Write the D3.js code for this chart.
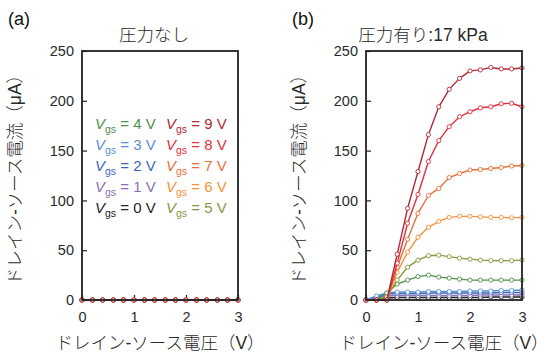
<!DOCTYPE html>
<html><head><meta charset="utf-8">
<script src="https://cdn.jsdelivr.net/npm/d3@7"></script>
<style>body{margin:0;background:#fff}svg{display:block}</style>
</head><body><svg id="c" width="557" height="358"></svg>
<script>
// ---- data ----
const vds = [0,0.2,0.4,0.6,0.8,1.0,1.2,1.4,1.6,1.8,2.0,2.2,2.4,2.6,2.8,3.0];
const vgsValues = [0,1,2,3,4,5,6,7,8,9];
const yTicks = [0,50,100,150,200,250];
const xTicks = [0,1,2,3];
const colors = ["#222222","#8a6fb3","#3f66b8","#5b8fd4","#4f9147","#86993f","#f4913c","#e6703a","#e5303b","#b02a35"];

// (a) no pressure
const a0V = [0,0,0,0,0,0,0,0,0,0,0,0,0,0,0,0];
const a1V = [0,0,0,0,0,0,0,0,0,0,0,0,0,0,0,0];
const a2V = [0,0,0,0,0,0,0,0,0,0,0,0,0,0,0,0];
const a3V = [0,0,0,0,0,0,0,0,0,0,0,0,0,0,0,0];
const a4V = [0,0,0,0,0,0,0,0,0,0,0,0,0,0,0,0];
const a5V = [0,0,0,0,0,0,0,0,0,0,0,0,0,0,0,0];
const a6V = [0,0,0,0,0,0,0,0,0,0,0,0,0,0,0,0];
const a7V = [0,0,0,0,0,0,0,0,0,0,0,0,0,0,0,0];
const a8V = [0,0,0,0,0,0,0,0,0,0,0,0,0,0,0,0];
const a9V = [0,0,0,0,0,0,0,0,0,0,0,0,0,0,0,0];

// (b) 17 kPa
const b0V = [0,1,2,2.5,2.5,2.5,2.5,2.5,2.5,2.5,2.5,2.5,3,3,3,3];
const b1V = [0,2,4,4.5,4.5,4.5,4.5,4.5,4.5,4.5,4.5,5,5,5,5,5];
const b2V = [0,3,6,6.5,6.5,6.5,7,7,7,7,7,7,7,7.5,7.5,7.5];
const b3V = [0,4,7,8,8,8,8.5,8.5,8.5,8.5,9,9,9,9.5,9.5,10];
const b4V = [0,0,7,16,20,23.5,25,23,22,21,20,20,20,20,20,20];
const b5V = [0,0,3,20,33,40,44.5,45,43.5,42,41,40,39.5,39.5,39.5,40];
const b6V = [0,0,0,28,48,63,73,79,83,84,84,83.5,83,83,82.5,83];
const b7V = [0,0,0,33,61,87,105,112,123,127,130.5,131,132,133,134.5,135];
const b8V = [0,0,0,37,77,106,139,160,174,184,189,193,194,197,197.5,194];
const b9V = [0,0,0,46,92,129,166,194,211.5,222.5,230,231,233.5,232,232,233];

const seriesA = [a0V,a1V,a2V,a3V,a4V,a5V,a6V,a7V,a8V,a9V];
const seriesB = [b0V,b1V,b2V,b3V,b4V,b5V,b6V,b7V,b8V,b9V];

// ---- drawing ----
const svg = d3.select("#c");
const FONT = "'Liberation Sans', Arial, 'Noto Sans CJK JP', sans-serif";
const CJK = "'Noto Sans CJK JP', 'Liberation Sans', sans-serif";
const plotTop = 51, plotBottom = 300;

function panel(x0, x1, series, label, title, titleX) {
  const x = d3.scaleLinear().domain([0,3]).range([x0,x1]);
  const y = d3.scaleLinear().domain([0,250]).range([plotBottom,plotTop]);
  const g = svg.append("g");

  g.append("g").attr("transform",`translate(${x0},0)`)
    .call(d3.axisLeft(y).tickValues(yTicks).tickSize(-5).tickPadding(8).tickFormat(d3.format("d")))
    .call(s=>{s.select(".domain").remove();
      s.selectAll("line").attr("stroke","#222").attr("stroke-width",1.2);
      s.selectAll("text").attr("font-family",FONT).attr("font-size",14.5).attr("fill","#2a2a2a");});
  g.append("g").attr("transform",`translate(0,${plotBottom})`)
    .call(d3.axisBottom(x).tickValues(xTicks).tickSize(-5).tickPadding(12).tickFormat(d3.format("d")))
    .call(s=>{s.select(".domain").remove();
      s.selectAll("line").attr("stroke","#222").attr("stroke-width",1.2);
      s.selectAll("text").attr("font-family",FONT).attr("font-size",14.5).attr("fill","#2a2a2a");});

  const line = d3.line().x((d,i)=>x(vds[i])).y(d=>y(d));
  series.forEach((s,k)=>{
    g.append("path").datum(s).attr("d",line).attr("fill","none")
      .attr("stroke",colors[k]).attr("stroke-width",1.4);
    g.selectAll(null).data(s).enter().append("circle")
      .attr("cx",(d,i)=>x(vds[i])).attr("cy",d=>y(d)).attr("r",2.1)
      .attr("fill","#fff").attr("stroke",colors[k]).attr("stroke-width",0.9);
  });

  g.append("rect").attr("x",x0).attr("y",plotTop).attr("width",x1-x0).attr("height",plotBottom-plotTop)
    .attr("fill","none").attr("stroke","#222").attr("stroke-width",1.8);

  svg.append("text").attr("x",x0-74).attr("y",25).attr("font-family",FONT).attr("font-size",18).attr("fill","#111").text(label);
  svg.append("text").attr("x",titleX).attr("y",41).attr("text-anchor","middle").attr("font-family",FONT)
    .attr("font-size",17.5).attr("font-weight",300).attr("fill","#2a2a2a").text(title);
  svg.append("text").attr("x",(x0+x1)/2).attr("y",349).attr("text-anchor","middle").attr("font-family",FONT)
    .attr("font-size",17.5).attr("font-weight",300).attr("fill","#2a2a2a").text("ドレイン-ソース電圧（V）");
  svg.append("text").attr("transform",`translate(${x0-61},${(plotTop+plotBottom)/2}) rotate(-90)`)
    .attr("text-anchor","middle").attr("font-family",FONT).attr("font-size",17.5).attr("font-weight",300).attr("fill","#2a2a2a")
    .text("ドレイン-ソース電流（μA）");
  return {x,y};
}

panel(82, 238, seriesA, "(a)", "圧力なし", 154);
panel(366, 522, seriesB, "(b)", "圧力有り:17 kPa", 423);

const legendCol1 = [4,3,2,1,0];
const legendCol2 = [9,8,7,6,5];
function legendItem(v, lx, ly) {
  const t = svg.append("text").attr("x",lx).attr("y",ly).attr("font-family",FONT)
    .attr("font-size",15).attr("fill",colors[v]);
  t.append("tspan").attr("font-style","italic").text("V");
  t.append("tspan").attr("font-size",10.5).attr("dy",4).text("gs");
  t.append("tspan").attr("dy",-4).text(` = ${v} V`);
}
legendCol1.forEach((v,i)=>legendItem(v, 95, 129+i*21));
legendCol2.forEach((v,i)=>legendItem(v, 166, 129+i*21));
</script></body></html>
